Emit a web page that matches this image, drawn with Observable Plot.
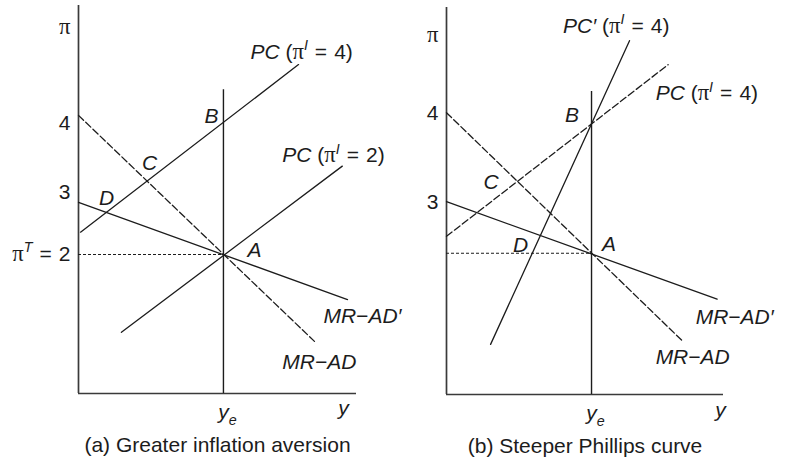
<!DOCTYPE html>
<html>
<head>
<meta charset="utf-8">
<script src="https://cdn.jsdelivr.net/npm/d3@7"></script>
<script src="https://cdn.jsdelivr.net/npm/@observablehq/plot@0.6"></script>
<style>
  html, body { margin: 0; padding: 0; background: #fff; }
  #row { display: flex; flex-direction: row; width: 785px; height: 459px; }
  #row svg { overflow: visible; background: transparent; }
</style>
</head>
<body>
<div id="row"></div>
<script>
// ---------- Panel (a): Greater inflation aversion ----------
const aXMax = 9.59, aYMax = 5.58;
const aYe = 5, aYeTop = 4.37, aPiT = 2;
const aPC4 = [[0.07, 2.32], [7.59, 4.73]];
const aPC2 = [[1.48, 0.88], [9.10, 3.27]];
const aMRAD = [[0, 4.0], [8.14, 0.75]];
const aMRADp = [[0, 2.75], [9.28, 1.35]];
const aTicks = [
  {y: 5.27, label: "π"},
  {y: 3.88, label: "4"},
  {y: 2.89, label: "3"},
  {y: 2.0, label: "π^{T} = 2"}
];
const aPoints = [
  {x: 6.07, y: 2.06, label: "*A*"},
  {x: 4.59, y: 3.99, label: "*B*"},
  {x: 2.45, y: 3.31, label: "*C*"},
  {x: 0.97, y: 2.81, label: "*D*"}
];
const aCurveLabels = [
  {x: 5.93, y: 4.91, label: "*PC* (π^{I} = 4)"},
  {x: 7.03, y: 3.42, label: "*PC* (π^{I} = 2)"},
  {x: 8.45, y: 1.11, label: "*MR−AD′*"},
  {x: 7.03, y: 0.45, label: "*MR−AD*"}
];
const aCaption = "(a) Greater inflation aversion";

// ---------- Panel (b): Steeper Phillips curve ----------
const bXMax = 9.55, bYMax = 5.48;
const bYe = 5, bYeTop = 4.29, bPiT = 2;
const bPC4 = [[0, 2.24], [7.64, 4.67]];
const bPC4steep = [[1.52, 0.71], [6.31, 5.01]];
const bMRAD = [[0, 3.99], [8.13, 0.76]];
const bMRADp = [[0, 2.73], [9.33, 1.35]];
const bTicks = [
  {y: 5.08, label: "π"},
  {y: 3.98, label: "4"},
  {y: 2.72, label: "3"}
];
const bPoints = [
  {x: 5.6, y: 2.13, label: "*A*"},
  {x: 4.33, y: 3.95, label: "*B*"},
  {x: 1.54, y: 3.0, label: "*C*"},
  {x: 2.55, y: 2.11, label: "*D*"}
];
const bCurveLabels = [
  {x: 4.02, y: 5.22, label: "*PC′* (π^{I} = 4)"},
  {x: 7.21, y: 4.26, label: "*PC* (π^{I} = 4)"},
  {x: 8.59, y: 1.09, label: "*MR−AD′*"},
  {x: 7.21, y: 0.53, label: "*MR−AD*"}
];
const bCaption = "(b) Steeper Phillips curve";

// ---------- drawing ----------
const FS = 21;
const CAP_FS = 21;
const INK = "#1c1c1c";
const AXIS = "#3a3a3a";
const NS = "http://www.w3.org/2000/svg";
const SERIF = "'Liberation Serif', 'DejaVu Serif', serif";

function richify(svg, fs) {
  svg.querySelectorAll("text").forEach(el => {
    if (el.querySelector("tspan")) return;
    const s = el.textContent;
    if (!/[*^_π=]/.test(s)) return;
    const parts = s.split(/(\*[^*]+\*|\^\{[^}]*\}|_\{[^}]*\}|π| = )/).filter(p => p);
    el.textContent = "";
    let shift = 0;
    for (const p of parts) {
      const t = document.createElementNS(NS, "tspan");
      let txt = p, dy = 0, small = false, italic = false, serif = false;
      if (p === "π") { serif = true; }
      else if (p === " = ") { txt = "\u2004=\u2004"; }
      else if (p[0] === "*") { txt = p.slice(1, -1); italic = true; }
      else if (p[0] === "^") { txt = p.slice(2, -1); italic = true; small = true; dy = -0.42 * fs; }
      else if (p[0] === "_") { txt = p.slice(2, -1); italic = true; small = true; dy = 0.28 * fs; }
      const d = dy - shift;
      if (d) t.setAttribute("dy", d.toFixed(2));
      shift = dy;
      if (italic) t.setAttribute("font-style", "italic");
      if (serif) { t.setAttribute("font-family", SERIF); t.setAttribute("font-size", (fs * 1.08).toFixed(1)); }
      if (small) t.setAttribute("font-size", (fs * 0.68).toFixed(1));
      t.textContent = txt;
      el.appendChild(t);
    }
  });
}

function panel(o) {
  const lineOpts = {x: d => d[0], y: d => d[1], stroke: INK, strokeWidth: 1.3};
  const svg = Plot.plot({
    width: o.width, height: 459,
    marginLeft: o.ml, marginRight: o.mr, marginTop: o.mt, marginBottom: o.mb,
    x: {domain: [0, o.xMax], axis: null},
    y: {domain: [0, o.yMax], axis: null},
    style: {fontFamily: "'Liberation Sans', Arial, Helvetica, sans-serif", background: "transparent", overflow: "visible"},
    marks: [
      // axes
      Plot.ruleX([0], {y1: 0, y2: o.yMax, stroke: AXIS, strokeWidth: 1.7}),
      Plot.ruleY([0], {x1: 0, x2: o.xMax, stroke: AXIS, strokeWidth: 1.7}),
      // y_e vertical
      Plot.ruleX([o.ye], {y1: 0, y2: o.yeTop, stroke: INK, strokeWidth: 1.4}),
      // target inflation dotted
      Plot.ruleY([o.piT], {x1: 0, x2: o.ye, stroke: INK, strokeWidth: 1.1, strokeDasharray: "3,2"}),
      ...o.lines.map(l => Plot.line(l.data, {...lineOpts, strokeDasharray: l.dash ? "7,3" : null})),
      Plot.text(o.ticks, {x: 0, y: "y", text: "label", textAnchor: "end", dx: -8, fontSize: FS, fill: INK}),
      Plot.text(o.points, {x: "x", y: "y", text: "label", fontSize: FS, fill: INK}),
      Plot.text(o.curveLabels, {x: "x", y: "y", text: "label", textAnchor: "start", fontSize: FS, fill: INK}),
      Plot.text(["*y*_{e}"], {x: o.ye, y: 0, dx: 4, dy: o.yeDy, fontSize: FS, fill: INK}),
      Plot.text(["*y*"], {x: o.yLabX, y: 0, dy: o.yDy, fontSize: FS, fill: INK}),
      Plot.text([o.caption], {frameAnchor: "bottom", dy: o.capDy, fontSize: CAP_FS, fill: INK})
    ]
  });
  richify(svg, FS);
  return svg;
}

const row = document.getElementById("row");
row.appendChild(panel({
  width: 390, ml: 78, mr: 34, mt: 5, mb: 66,
  xMax: aXMax, yMax: aYMax, ye: aYe, yeTop: aYeTop, piT: aPiT,
  lines: [{data: aPC4}, {data: aPC2}, {data: aMRAD, dash: true}, {data: aMRADp}],
  ticks: aTicks, points: aPoints, curveLabels: aCurveLabels,
  yeDy: 19, yLabX: 9.14, yDy: 15, caption: aCaption, capDy: 58
}));
row.appendChild(panel({
  width: 395, ml: 56, mr: 62, mt: 7, mb: 65,
  xMax: bXMax, yMax: bYMax, ye: bYe, yeTop: bYeTop, piT: bPiT,
  lines: [{data: bPC4, dash: true}, {data: bPC4steep}, {data: bMRAD, dash: true}, {data: bMRADp}],
  ticks: bTicks, points: bPoints, curveLabels: bCurveLabels,
  yeDy: 19, yLabX: 9.45, yDy: 16, caption: bCaption, capDy: 58
}));
</script>
</body>
</html>
